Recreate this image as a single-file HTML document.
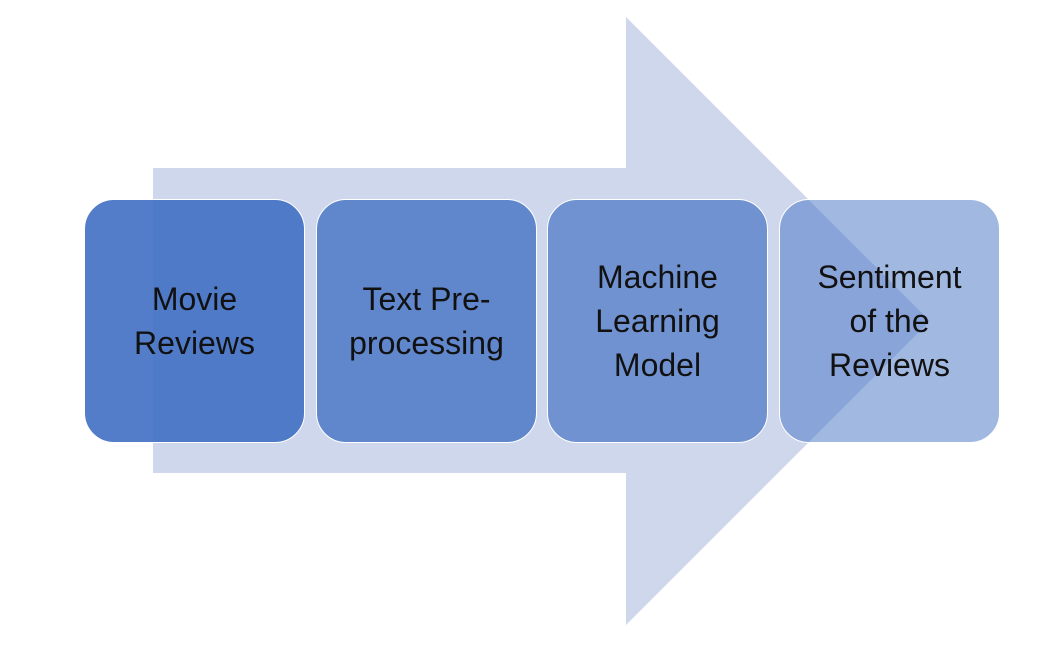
<!DOCTYPE html>
<html><head><meta charset="utf-8"><style>
body{margin:0;width:1063px;height:656px;background:#fff;position:relative;overflow:hidden;font-family:"Liberation Sans",sans-serif}
.b{position:absolute;top:199px;width:221px;height:244px;border-radius:30px;border:1.5px solid #fff;box-sizing:border-box;display:flex;align-items:center;justify-content:center;text-align:center;font-size:32px;line-height:44px;color:#111}
</style></head><body>
<svg width="1063" height="656" style="position:absolute;left:0;top:0">
<polygon points="153,168 626,168 626,17 930,321 626,625 626,473 153,473" fill="#cfd7ec"/>
</svg>
<div class="b" style="left:84px;background:rgba(68,114,196,0.92)">Movie<br>Reviews</div>
<div class="b" style="left:316px;background:rgba(68,114,196,0.8)">Text Pre-<br>processing</div>
<div class="b" style="left:547px;background:rgba(68,114,196,0.68)">Machine<br>Learning<br>Model</div>
<div class="b" style="left:779px;background:rgba(68,114,196,0.5)">Sentiment<br>of the<br>Reviews</div>
</body></html>
